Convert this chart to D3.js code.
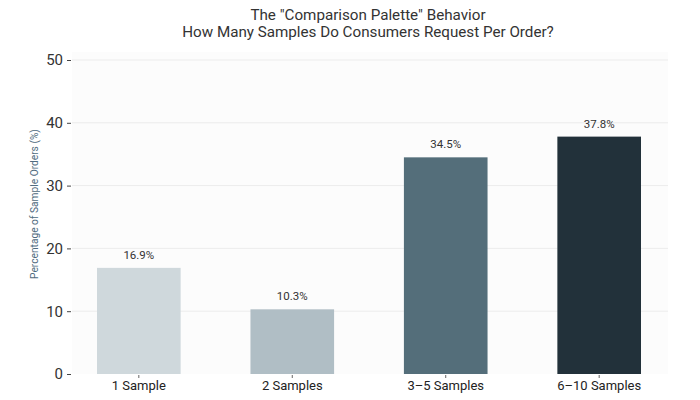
<!DOCTYPE html>
<html>
<head>
<meta charset="utf-8">
<script src="https://cdn.jsdelivr.net/npm/d3@7"></script>
<style>
  body { margin: 0; background: #fff; }
  svg { font-family: Roboto, "Open Sans", sans-serif; }
</style>
</head>
<body>
<div id="chart"></div>
<script>
let width = 700;
let height = 400;

let categories = ["1 Sample", "2 Samples", "3\u20135 Samples", "6\u201310 Samples"];
let values = [16.9, 10.3, 34.5, 37.8];
let barColors = ["#cfd8dc", "#b0bec5", "#546e7a", "#22313a"];
let yTicks = [0, 10, 20, 30, 40, 50];
let titleLines = ["The \"Comparison Palette\" Behavior", "How Many Samples Do Consumers Request Per Order?"];

let svg = d3.select("#chart").append("svg")
    .attr("width", width)
    .attr("height", height);

let x = d3.scaleBand()
    .domain(categories)
    .range([97, 641])
    .paddingInner(0.455)
    .paddingOuter(0);

let y = d3.scaleLinear()
    .domain([0, 50])
    .range([374, 60]);

// light panel + grid
svg.append("rect")
    .attr("x", 72).attr("y", 52)
    .attr("width", 596).attr("height", 322)
    .attr("fill", "#fcfcfc");

svg.append("g")
    .selectAll("line")
    .data(yTicks.filter(d => d > 0))
    .join("line")
    .attr("x1", 72).attr("x2", 668)
    .attr("y1", d => y(d)).attr("y2", d => y(d))
    .attr("stroke", "#ececec")
    .attr("stroke-width", 1);

// y axis
let yAxis = svg.append("g")
    .attr("transform", "translate(71,0)")
    .call(d3.axisLeft(y).tickValues(yTicks).tickSize(4).tickPadding(4));
yAxis.select(".domain").remove();
yAxis.selectAll(".tick line").attr("stroke", "#444");
yAxis.selectAll("text")
    .attr("font-size", 15)
    .attr("fill", "#333")
    .attr("font-family", "Roboto, sans-serif");

// x axis
let xAxis = svg.append("g")
    .attr("transform", "translate(0,375)")
    .call(d3.axisBottom(x).tickSize(3).tickPadding(3));
xAxis.select(".domain").remove();
xAxis.selectAll(".tick line").attr("stroke", "#666");
xAxis.selectAll("text")
    .attr("font-size", 13)
    .attr("fill", "#222")
    .attr("font-family", "Roboto, sans-serif");

// bars
svg.append("g")
    .selectAll("rect")
    .data(values)
    .join("rect")
    .attr("x", (d, i) => x(categories[i]))
    .attr("y", d => y(d))
    .attr("width", x.bandwidth())
    .attr("height", d => y(0) - y(d))
    .attr("fill", (d, i) => barColors[i]);

// value labels
svg.append("g")
    .selectAll("text")
    .data(values)
    .join("text")
    .attr("x", (d, i) => x(categories[i]) + x.bandwidth() / 2)
    .attr("y", d => y(d) - 9)
    .attr("text-anchor", "middle")
    .attr("font-size", 11.5)
    .attr("fill", "#333")
    .text(d => d.toFixed(1) + "%");

// y title
svg.append("text")
    .attr("transform", "translate(38,204) rotate(-90)")
    .attr("text-anchor", "middle")
    .attr("font-size", 10.2)
    .attr("fill", "#4f6b80")
    .text("Percentage of Sample Orders (%)");

// title
svg.append("g")
    .selectAll("text")
    .data(titleLines)
    .join("text")
    .attr("x", 368)
    .attr("y", (d, i) => 20 + i * 17)
    .attr("text-anchor", "middle")
    .attr("font-size", 15.2)
    .attr("fill", "#333")
    .text(d => d);
</script>
</body>
</html>
